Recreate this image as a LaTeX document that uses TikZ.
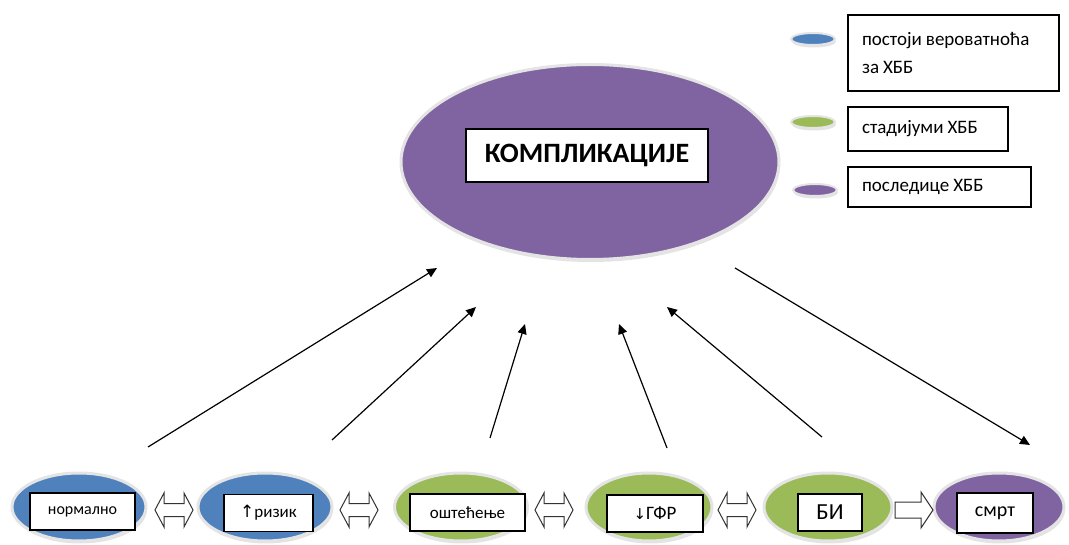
\documentclass[tikz,border=0pt]{standalone}
\usepackage{fontspec}
\setmainfont{Carlito}
\newfontfamily\arrowfont{DejaVu Sans}
\usetikzlibrary{arrows.meta, shapes.geometric, shadows}
\definecolor{cblue}{HTML}{4F81BD}
\definecolor{cgreen}{HTML}{9BBB59}
\definecolor{cpurple}{HTML}{8064A2}
\definecolor{crim}{HTML}{E4E4E4}
\newcommand{\gap}{\hspace{4pt}}
\tikzset{
  every picture/.style={x=1pt, y=-1pt, line width=1pt},
  disc/.style={ellipse, draw=crim, line width=3pt, fill=#1, inner sep=0pt, drop shadow={shadow xshift=1pt, shadow yshift=-2.5pt, fill=black!22}},
  tag/.style={draw=black, line width=1.2pt, fill=white, inner sep=0pt, minimum height=37pt, font=\fontsize{16}{19}\selectfont},
  legbox/.style={draw=black, line width=1.2pt, fill=white, inner xsep=14pt, inner ysep=0pt, align=left, font=\fontsize{19}{23}\selectfont},
  link/.style={-{Triangle[length=10pt, width=9pt]}, line width=1.2pt},
  blockarrow/.style={draw=black!80, fill=white, line width=1pt},
}

\begin{document}
\begin{tikzpicture}
  \useasboundingbox (0,0) rectangle (1069,545);

  \node[disc=cpurple, minimum width=378pt, minimum height=195pt] (big) at (590,162) {};
  \node[tag, minimum width=242pt, minimum height=53pt, font=\fontsize{28}{32}\selectfont\bfseries] (bk) at (587,155.5) {КОМПЛИКАЦИЈЕ};

  \node[disc=cblue, minimum width=44pt, minimum height=12pt, line width=2pt] (l1) at (813,39) {};
  \node[disc=cgreen, minimum width=44pt, minimum height=12pt, line width=2pt] (l2) at (813,122) {};
  \node[disc=cpurple, minimum width=44pt, minimum height=12pt, line width=2pt] (l3) at (815,190) {};
  \node[legbox, text width=183pt, minimum height=76pt] (k1) at (953.5,53) {постоји\gap вероватноћа\\[5pt]за\gap ХББ};
  \node[legbox, text width=132pt, minimum height=44pt] (k2) at (928,129) {стадијуми\gap ХББ};
  \node[legbox, text width=155pt, minimum height=40pt] (k3) at (939.5,187) {последице\gap ХББ};

  \node[disc=cblue, minimum width=134pt, minimum height=68pt] (e1) at (79,507) {};
  \node[disc=cblue, minimum width=134pt, minimum height=68pt] (e2) at (265,507) {};
  \node[disc=cgreen, minimum width=133pt, minimum height=68pt] (e3) at (461,507) {};
  \node[disc=cgreen, minimum width=126pt, minimum height=68pt] (e4) at (649,507) {};
  \node[disc=cgreen, minimum width=128pt, minimum height=68pt] (e5) at (828,507) {};
  \node[disc=cpurple, minimum width=130pt, minimum height=68pt] (e6) at (999,507) {};

  \node[tag, minimum width=105pt, font=\fontsize{16}{19}\selectfont] (b1) at (82.5,511.5) {нормално};
  \node[tag, minimum width=89pt, font=\fontsize{17}{20}\selectfont] (b2) at (268.5,513) {{\arrowfont ↑}ризик};
  \node[tag, minimum width=115pt, font=\fontsize{17}{20}\selectfont] (b3) at (467.5,512.5) {оштећење};
  \node[tag, minimum width=96pt, font=\fontsize{19}{22}\selectfont] (b4) at (655,513.5) {{\arrowfont\fontsize{15}{18}\selectfont ↓}ГФР};
  \node[tag, minimum width=64pt, font=\fontsize{23}{26}\selectfont] (b5) at (830,512.5) {БИ};
  \node[tag, minimum width=76pt, minimum height=40pt, font=\fontsize{20}{23}\selectfont] (b6) at (995,513) {смрт};

  \foreach \cx in {174,359,554,737}
    \draw[blockarrow] (\cx-19,510) -- ++(9,-17) -- ++(0,10.5) -- ++(20,0) -- ++(0,-10.5) -- ++(9,17) -- ++(-9,17) -- ++(0,-10.5) -- ++(-20,0) -- ++(0,10.5) -- cycle;
  \draw[blockarrow] (895,502) -- (921,502) -- (921,492) -- (933,510) -- (921,528) -- (921,518) -- (895,518) -- cycle;

  \coordinate (s1) at (148,447);
  \coordinate (t1) at (437,268);
  \coordinate (s2) at (332,440);
  \coordinate (t2) at (476,307);
  \coordinate (s3) at (490,438);
  \coordinate (t3) at (525,324);
  \coordinate (s4) at (667,448);
  \coordinate (t4) at (619,324);
  \coordinate (s5) at (822,437);
  \coordinate (t5) at (667,307);
  \coordinate (s6) at (735,268);
  \coordinate (t6) at (1030,445);
  \foreach \i in {1,...,6}
    \draw[link] (s\i) -- (t\i);
\end{tikzpicture}
\end{document}
